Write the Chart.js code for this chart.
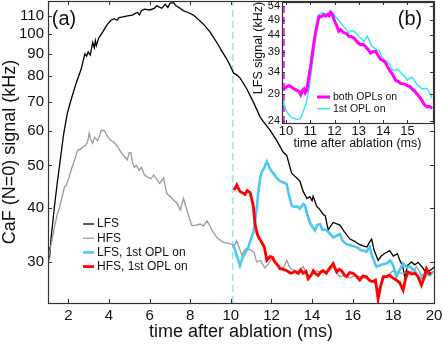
<!DOCTYPE html>
<html>
<head>
<meta charset="utf-8">
<script src="https://cdn.jsdelivr.net/npm/chart.js@4.4.0/dist/chart.umd.min.js"></script>
<style>
  html, body { margin: 0; padding: 0; background: #fff; }
  #wrap { position: relative; width: 443px; height: 346px; }
  #wrap canvas { position: absolute; left: 0; top: 0; }
</style>
</head>
<body>
<div id="wrap">
  <canvas id="mainChart" width="443" height="346"></canvas>
  <canvas id="insetChart" width="443" height="346"></canvas>
</div>
<script>
// ---- panel (a): CaF signal vs time after ablation ----
const lfsTime = [1.0, 1.04, 1.08, 1.15, 1.31, 1.45, 1.56, 1.77, 1.95, 2.13, 2.38, 2.63, 2.75, 2.82, 2.9, 2.98, 3.08, 3.2, 3.28, 3.33, 3.38, 3.5, 3.69, 3.8, 3.93, 4.1, 4.26, 4.4, 4.5, 4.7, 4.92, 5.15, 5.3, 5.41, 5.5, 5.6, 5.74, 6.0, 6.23, 6.36, 6.6, 6.77, 6.9, 7.0, 7.18, 7.3, 7.45, 7.67, 7.9, 8.16, 8.4, 8.65, 8.98, 9.31, 9.55, 9.8, 10.0, 10.13, 10.3, 10.45, 10.78, 11.11, 11.44, 11.6, 11.93, 12.26, 12.58, 12.75, 12.99, 13.2, 13.4, 13.56, 13.75, 13.89, 14.0, 14.05, 14.22, 14.4, 14.55, 14.65, 14.79, 15.04, 15.37, 15.61, 15.86, 16.1, 16.3, 16.51, 16.7, 16.85, 16.93, 17.05, 17.25, 17.4, 17.6, 17.82, 18.0, 18.2, 18.32, 18.45, 18.56, 18.7, 18.89, 19.05, 19.22, 19.46, 19.6, 19.79, 20.0];
const lfsSignal = [30.5, 32.5, 30.8, 34, 40, 45.4, 49.6, 59, 65.8, 70.5, 77, 83, 87.6, 90, 89, 91, 89.5, 95.6, 93, 96.5, 94, 98, 101, 103, 105.3, 107.5, 108.4, 107.5, 109, 109.5, 110, 110.5, 111.5, 112, 110.5, 113, 114, 113.5, 114.5, 116, 114.5, 117, 115, 117.5, 118, 116, 115, 113, 112, 110.5, 108, 105.3, 101, 95.6, 91.5, 87.6, 84, 81.4, 80.5, 79.3, 74.9, 69.8, 64.6, 63, 60.2, 57, 53.6, 52.7, 48, 47, 46, 43.6, 42, 42.4, 41.5, 42.5, 40.4, 39.5, 38.6, 38.3, 35.6, 37, 36.5, 35.1, 33.9, 33.5, 33, 32.7, 32.5, 33.5, 33.9, 32, 30.3, 31, 31.5, 31.9, 31, 31.4, 30.3, 29.5, 27.8, 29.5, 30.05, 29.6, 30, 29.1, 28.4, 28.7, 29.2];

const hfsTime = [1.0, 1.1, 1.2, 1.31, 1.45, 1.56, 1.7, 1.81, 1.9, 2.05, 2.15, 2.3, 2.46, 2.6, 2.71, 2.85, 2.95, 3.03, 3.1, 3.2, 3.3, 3.44, 3.55, 3.61, 3.77, 3.9, 4.1, 4.25, 4.43, 4.6, 4.76, 4.9, 5.0, 5.08, 5.15, 5.25, 5.35, 5.49, 5.6, 5.74, 5.9, 6.07, 6.2, 6.36, 6.5, 6.69, 6.85, 7.0, 7.18, 7.35, 7.51, 7.67, 7.84, 7.95, 8.08, 8.3, 8.49, 8.65, 8.82, 8.95, 9.06, 9.2, 9.31, 9.45, 9.63, 9.85, 10.05, 10.15, 10.29, 10.4, 10.54, 10.65, 10.78, 11.03, 11.15, 11.27, 11.45, 11.68, 11.85, 12.01, 12.15, 12.26, 12.4, 12.58, 12.75, 12.91, 13.08, 13.24, 13.4, 13.56, 13.7, 13.89, 14.05, 14.22, 14.45, 14.71, 14.88, 15.04, 15.2, 15.37, 15.6, 15.86, 16.1, 16.35, 16.6, 16.84, 17.05, 17.25, 17.4, 17.58, 17.8, 17.99, 18.25, 18.48, 18.81, 19.0, 19.14, 19.3, 19.46, 19.6, 19.79, 20.0];
const hfsSignal = [30.3, 32, 33.8, 36, 38.5, 40, 42.5, 44.6, 45, 47.2, 49, 51.3, 54.2, 54.5, 55.1, 55.5, 56.6, 59.3, 57.5, 56.2, 58, 57, 58.5, 60.1, 60.1, 58.5, 57, 56.5, 55.1, 53.5, 52.4, 51.5, 53.5, 53.5, 51, 49.5, 50, 48.7, 49.5, 47.6, 47, 46.6, 47.5, 46.4, 45.5, 46.8, 43.1, 42.5, 41.6, 41, 39.5, 42, 39.5, 38, 36.4, 36.5, 36.7, 36.3, 37.3, 36.5, 35.6, 34.8, 34.2, 33.8, 33.3, 33.2, 33, 32.5, 33.6, 32.5, 31.1, 31.8, 32.3, 31.9, 31.5, 30.05, 30.3, 29.1, 29.8, 30.6, 30, 29.5, 29.3, 29.1, 30.3, 29.1, 28.8, 28.3, 29, 29.3, 28.5, 27.8, 28.3, 28.7, 28.4, 28.5, 28.8, 29.3, 28.4, 27.8, 28, 27.6, 28, 27.8, 27.6, 27.3, 27, 25.9, 26.8, 27.8, 28.2, 28.7, 28.4, 28.3, 28.4, 28.8, 29.3, 28.5, 27.3, 27.8, 28.3, 28.6];

const lfsOplTime = [10.12, 10.25, 10.45, 10.55, 10.7, 10.85, 10.95, 11.1, 11.19, 11.3, 11.35, 11.45, 11.52, 11.65, 11.77, 11.9, 12.0, 12.09, 12.25, 12.42, 12.55, 12.75, 12.85, 12.99, 13.1, 13.24, 13.4, 13.55, 13.65, 13.75, 13.89, 14.0, 14.14, 14.25, 14.39, 14.5, 14.71, 14.85, 15.04, 15.2, 15.37, 15.5, 15.7, 15.9, 16.19, 16.4, 16.68, 16.84, 16.95, 17.17, 17.4, 17.66, 17.85, 17.99, 18.15, 18.3, 18.48, 18.65, 18.81, 19.05, 19.3, 19.45, 19.63, 19.8, 19.95];
const lfsOplSignal = [33, 31.5, 29.5, 30.5, 31.5, 32.3, 33.5, 35, 37, 41, 43.5, 47, 48.3, 49.5, 51, 49.5, 48.5, 48, 46.8, 46, 45.8, 45.3, 43, 40.5, 40.2, 40.3, 39.8, 40.8, 40.5, 38.8, 37, 36.2, 35.5, 36.5, 36.7, 35.6, 35.6, 35, 34.2, 34.5, 34.8, 33.6, 33, 32.8, 32.5, 32, 31.7, 32.5, 31, 29.3, 29.6, 29.8, 30.3, 29.5, 27.8, 28.8, 29.8, 29.2, 29.3, 28.7, 27.3, 28, 28.3, 28, 28.5];

const hfsOplTime = [10.16, 10.29, 10.4, 10.45, 10.6, 10.7, 10.8, 10.95, 11.05, 11.11, 11.19, 11.3, 11.4, 11.52, 11.65, 11.77, 11.93, 12.05, 12.17, 12.3, 12.42, 12.6, 12.75, 12.9, 12.99, 13.15, 13.32, 13.45, 13.56, 13.7, 13.81, 13.95, 14.06, 14.18, 14.3, 14.45, 14.55, 14.7, 14.79, 14.92, 15.04, 15.21, 15.33, 15.45, 15.6, 15.7, 15.85, 16.02, 16.2, 16.35, 16.5, 16.68, 16.85, 17.0, 17.12, 17.25, 17.38, 17.5, 17.65, 17.82, 17.98, 18.15, 18.3, 18.48, 18.6, 18.73, 18.9, 19.05, 19.2, 19.38, 19.5, 19.63, 19.75, 19.87];
const hfsOplSignal = [43.9, 45.1, 44, 43.6, 43.2, 42.9, 43.8, 43.3, 41.5, 40.2, 36.7, 34.8, 34, 33.3, 32.5, 30.3, 30.9, 30.8, 30.05, 29.6, 29, 28.9, 28.7, 28.4, 28.3, 28.6, 28.3, 28.8, 28.3, 28.6, 27.5, 28, 28.7, 28.2, 28, 28.6, 28.7, 28.3, 28.8, 29.3, 29.8, 28.5, 28.9, 28.7, 28, 27.8, 28.4, 28.3, 27.8, 27.3, 27.9, 27.8, 27.2, 27.1, 27.3, 24.7, 26.5, 27.8, 27.8, 28, 27.6, 27.3, 27, 25.9, 27.5, 28.5, 28.2, 28.3, 27.9, 26.6, 27.5, 29, 28.3, 28.3];

const mainXTicks = [2, 4, 6, 8, 10, 12, 14, 16, 18, 20];
const mainYTicks = [30, 40, 50, 60, 70, 80, 90, 100, 110];
const oplSwitchTime = 10.1;

// ---- panel (b): LFS signal, zoomed ----
const bothTime = [9.88, 9.93, 10.05, 10.14, 10.25, 10.34, 10.45, 10.55, 10.61, 10.68, 10.75, 10.8, 10.86, 10.95, 11.02, 11.09, 11.16, 11.23, 11.3, 11.36, 11.45, 11.57, 11.64, 11.71, 11.78, 11.84, 11.9, 11.98, 12.08, 12.18, 12.25, 12.39, 12.5, 12.59, 12.7, 12.8, 12.93, 13.07, 13.18, 13.28, 13.38, 13.48, 13.58, 13.69, 13.79, 13.89, 14.0, 14.1, 14.2, 14.3, 14.4, 14.51, 14.6, 14.71, 14.85, 14.99, 15.1, 15.19, 15.3, 15.4, 15.5, 15.6, 15.7, 15.81, 15.9, 16.01];
const bothSignal = [29.8, 30.1, 30.6, 30.8, 30.4, 30.1, 29.8, 29.5, 28.9, 29.8, 30.1, 29.3, 29.8, 32.9, 35.5, 38.8, 42, 45.3, 48, 50.3, 50.2, 50.9, 50.4, 50.9, 50.5, 51.8, 51.2, 49.2, 47.3, 45.3, 45.8, 44.8, 44.5, 43.7, 43.6, 43.2, 42, 41.1, 41.3, 40.6, 39.8, 38.8, 39.2, 39.3, 38.2, 37.2, 36.8, 36.2, 35, 34, 33.3, 32, 31.8, 31.3, 31.2, 30.8, 30.6, 30.1, 29.6, 29, 28.4, 27.7, 26.9, 26.5, 26.6, 26.2];

const firstTime = [9.86, 9.93, 10.0, 10.1, 10.2, 10.3, 10.41, 10.55, 10.62, 10.68, 10.82, 10.95, 11.02, 11.09, 11.16, 11.23, 11.3, 11.36, 11.5, 11.64, 11.77, 11.88, 11.98, 12.08, 12.18, 12.39, 12.59, 12.7, 12.8, 13.0, 13.21, 13.35, 13.45, 13.55, 13.76, 13.85, 13.96, 14.05, 14.17, 14.3, 14.37, 14.5, 14.58, 14.78, 14.9, 14.99, 15.1, 15.19, 15.3, 15.4, 15.5, 15.6, 15.7, 15.81, 15.9, 16.01];
const firstSignal = [28.2, 27, 25.9, 25.2, 24.7, 24.5, 24.3, 24.2, 24.6, 25.3, 27, 30.1, 33, 36.2, 40, 44.3, 48, 51, 51.6, 51, 51.6, 51.8, 50.9, 49.8, 48.8, 46.7, 44.8, 45.5, 45.3, 43.7, 42.1, 43.7, 42, 40.6, 39.6, 39.4, 37.5, 37, 36.6, 35.5, 34.3, 34.5, 34.6, 33.5, 32.8, 32, 32.5, 32.7, 31.8, 31, 30.6, 30.1, 30.2, 30.1, 29.3, 28.2];

const insetXTicks = [10, 11, 12, 13, 14, 15];
const insetYTicks = [24, 29, 34, 39, 44, 49, 54];
const insetSwitchTime = 9.92;

const FONT = '"Liberation Sans", Arial, Helvetica, sans-serif';

function zip(t, v) {
    return t.map((x, i) => ({ x: x, y: v[i] }));
}

// white box, inward ticks on all four sides, legend and panel letter
const framePlugin = {
    id: 'frame',
    beforeDraw(chart, args, opts) {
        const a = chart.chartArea;
        const ctx = chart.ctx;
        ctx.save();
        ctx.fillStyle = '#fff';
        ctx.fillRect(a.left, a.top, a.right - a.left, a.bottom - a.top);
        ctx.restore();
    },
    afterDraw(chart, args, opts) {
        const a = chart.chartArea;
        const ctx = chart.ctx;
        const xs = chart.scales.x;
        const ys = chart.scales.y;
        const len = opts.tickLen;
        ctx.save();
        ctx.strokeStyle = '#333';
        ctx.lineWidth = 1;
        ctx.beginPath();
        xs.ticks.forEach(t => {
            const px = Math.round(xs.getPixelForValue(t.value)) + 0.5;
            ctx.moveTo(px, a.bottom); ctx.lineTo(px, a.bottom - len);
            ctx.moveTo(px, a.top); ctx.lineTo(px, a.top + len);
        });
        ys.ticks.forEach(t => {
            const py = Math.round(ys.getPixelForValue(t.value)) + 0.5;
            ctx.moveTo(a.left, py); ctx.lineTo(a.left + len, py);
            ctx.moveTo(a.right, py); ctx.lineTo(a.right - len, py);
        });
        ctx.stroke();
        ctx.lineWidth = 1.2;
        ctx.strokeRect(Math.round(a.left) + 0.5, Math.round(a.top) + 0.5,
            Math.round(a.right - a.left), Math.round(a.bottom - a.top));

        // legend
        const lg = opts.legend;
        ctx.font = lg.size + 'px ' + FONT;
        ctx.textBaseline = 'middle';
        ctx.textAlign = 'left';
        let y = lg.y;
        chart.data.datasets.filter(d => d.label).forEach(d => {
            ctx.strokeStyle = d.borderColor;
            ctx.lineWidth = d.borderWidth;
            ctx.beginPath();
            ctx.moveTo(lg.x, y);
            ctx.lineTo(lg.x + lg.len, y);
            ctx.stroke();
            ctx.fillStyle = '#111';
            ctx.fillText(d.label, lg.x + lg.len + lg.gap, y);
            y += lg.dy;
        });

        // panel letter
        ctx.font = opts.letter.size + 'px ' + FONT;
        ctx.fillStyle = '#111';
        ctx.textAlign = 'center';
        ctx.fillText(opts.letter.text, opts.letter.x, opts.letter.y);

        // custom y title (inset only)
        if (opts.yTitle) {
            ctx.translate(opts.yTitle.x, opts.yTitle.y);
            ctx.rotate(-Math.PI / 2);
            ctx.font = opts.yTitle.size + 'px ' + FONT;
            ctx.fillText(opts.yTitle.text, 0, 0);
        }
        ctx.restore();
    }
};

function fixedAxis(size, ticks) {
    return {
        afterBuildTicks: s => { s.ticks = ticks.map(v => ({ value: v })); },
        afterFit: s => {
            if (s.isHorizontal()) s.height = size; else s.width = size;
            s.paddingTop = 0; s.paddingBottom = 0;
            s.paddingLeft = 0; s.paddingRight = 0;
        }
    };
}

function line(label, data, color, width, order) {
    return {
        label: label,
        data: data,
        borderColor: color,
        borderWidth: width,
        pointRadius: 0,
        tension: 0,
        fill: false,
        order: order
    };
}

// ---- main chart ----
const mainYMin = 24.2, mainYMax = 119;
new Chart(document.getElementById('mainChart'), {
    type: 'line',
    data: {
        datasets: [
            line('LFS', zip(lfsTime, lfsSignal), '#000000', 1.3, 4),
            line('HFS', zip(hfsTime, hfsSignal), '#9a9a9a', 1.3, 3),
            line('LFS, 1st OPL on', zip(lfsOplTime, lfsOplSignal), '#4cc8f0', 2.6, 2),
            line('HFS, 1st OPL on', zip(hfsOplTime, hfsOplSignal), '#ff0000', 2.8, 1),
            Object.assign(line('', [{ x: oplSwitchTime, y: mainYMin }, { x: oplSwitchTime, y: mainYMax }], '#66d4e8', 1, 5),
                { borderDash: [7, 4] })
        ]
    },
    options: {
        responsive: false,
        devicePixelRatio: 1,
        animation: false,
        layout: { padding: { left: 0, right: 9, top: 1, bottom: 0 } },
        plugins: {
            legend: { display: false },
            tooltip: { enabled: false },
            frame: {
                tickLen: 4,
                legend: { x: 83, y: 224, dy: 14.2, len: 11, gap: 3, size: 12 },
                letter: { text: '(a)', x: 64, y: 19, size: 20 }
            }
        },
        scales: {
            x: Object.assign({
                type: 'linear',
                min: 1,
                max: 20,
                grid: { display: false, drawTicks: false },
                border: { display: false },
                ticks: { font: { family: FONT, size: 15 }, color: '#111', padding: 4, maxRotation: 0 },
                title: { display: true, text: 'time after ablation (ms)', color: '#111',
                    font: { family: FONT, size: 18, lineHeight: 1 }, padding: { top: 0, bottom: 5 } }
            }, fixedAxis(43, mainXTicks)),
            y: Object.assign({
                type: 'logarithmic',
                min: mainYMin,
                max: mainYMax,
                grid: { display: false, drawTicks: false },
                border: { display: false },
                ticks: { font: { family: FONT, size: 15 }, color: '#111', padding: 4,
                    callback: v => String(v) },
                title: { display: true, text: 'CaF (N=0) signal (kHz)', color: '#111',
                    font: { family: FONT, size: 18, lineHeight: 1 }, padding: { top: 1, bottom: 0 } }
            }, fixedAxis(48, mainYTicks))
        }
    },
    plugins: [framePlugin]
});

// ---- inset chart ----
const insetYMin = 23.65, insetYMax = 55.7;
new Chart(document.getElementById('insetChart'), {
    type: 'line',
    data: {
        datasets: [
            line('both OPLs on', zip(bothTime, bothSignal), '#ff00ff', 3, 1),
            line('1st OPL on', zip(firstTime, firstSignal), '#2ee6f2', 1.4, 2),
            Object.assign(line('', [{ x: insetSwitchTime, y: insetYMin }, { x: insetSwitchTime, y: insetYMax }], '#ff33ff', 2, 3),
                { borderDash: [7, 4] })
        ]
    },
    options: {
        responsive: false,
        devicePixelRatio: 1,
        animation: false,
        layout: { padding: { left: 252, right: 10, top: 2, bottom: 193 } },
        plugins: {
            legend: { display: false },
            tooltip: { enabled: false },
            frame: {
                tickLen: 3,
                legend: { x: 317, y: 97, dy: 11.7, len: 13, gap: 3, size: 10.5 },
                letter: { text: '(b)', x: 410, y: 19, size: 20 },
                yTitle: { text: 'LFS signal (kHz)', x: 259, y: 48, size: 12.5 }
            }
        },
        scales: {
            x: Object.assign({
                type: 'linear',
                min: 9.84,
                max: 16.05,
                grid: { display: false, drawTicks: false },
                border: { display: false },
                ticks: { font: { family: FONT, size: 13 }, color: '#111', padding: 1, maxRotation: 0 },
                title: { display: true, text: 'time after ablation (ms)', color: '#111',
                    font: { family: FONT, size: 12.5, lineHeight: 1 }, padding: { top: 0, bottom: 3 } }
            }, fixedAxis(30, insetXTicks)),
            y: Object.assign({
                type: 'logarithmic',
                min: insetYMin,
                max: insetYMax,
                grid: { display: false, drawTicks: false },
                border: { display: false },
                ticks: { font: { family: FONT, size: 11 }, color: '#111', padding: 2,
                    callback: v => String(v) }
            }, fixedAxis(30, insetYTicks))
        }
    },
    plugins: [framePlugin]
});
</script>
</body>
</html>
